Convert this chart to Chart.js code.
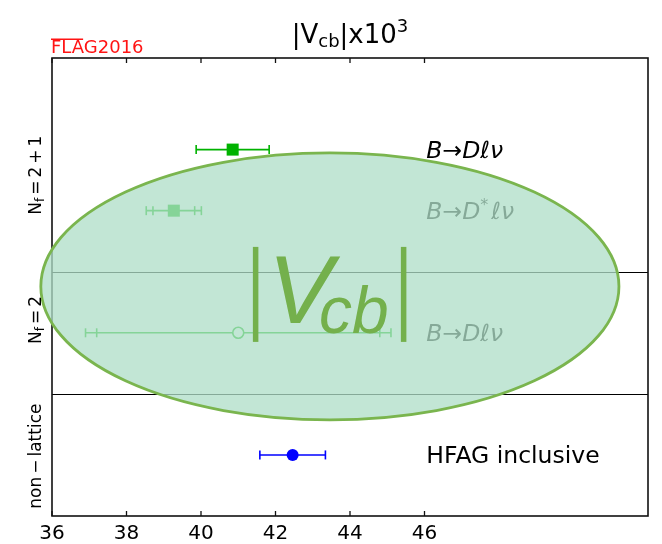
<!DOCTYPE html>
<html>
<head>
<meta charset="utf-8">
<script src="https://cdn.jsdelivr.net/npm/chart.js@4/dist/chart.umd.min.js"></script>
<style>
  html, body { margin: 0; padding: 0; background: #fff; }
  #wrap { width: 662px; height: 544px; position: relative; }
</style>
</head>
<body>
<div id="wrap"><canvas id="chart" width="662" height="544"></canvas></div>
<script>
// |Vcb| x 10^3 determinations
const labels   = ['B→Dℓν', 'B→D*ℓν', 'B→Dℓν', 'HFAG inclusive'];
const values   = [40.85, 39.27, 41.0, 42.46];
const errInner = [0.98, 0.56, 3.8, 0.88];   // statistical
const errOuter = [0.98, 0.74, 4.1, 0.88];   // total
const rows     = [6, 5, 3, 1];
const groups   = ['Nf = 2 + 1', 'Nf = 2', 'non − lattice'];
const groupRows = [5.58, 3.21, 0.98];
const dividers = [2, 4];
const xTicks   = [36, 38, 40, 42, 44, 46];

// marker appearance per entry
const GREEN = 'rgb(0,178,0)';
const BLUE = 'rgb(0,0,255)';
const markStyle = [
  { color: GREEN, shape: 'rect',   radius: 8.5, fill: GREEN },
  { color: GREEN, shape: 'rect',   radius: 8.5, fill: GREEN },
  { color: GREEN, shape: 'circle', radius: 5.5, fill: '#ffffff' },
  { color: BLUE,  shape: 'circle', radius: 6,   fill: BLUE }
];
const labelX = 46.05;
const badge = { cx: 43.46, cy: 3.76, rx: 7.76, ry: 2.186 };

const FAM = '"DejaVu Sans", sans-serif';

const datasets = [];
values.forEach((v, i) => {
  const st = markStyle[i];
  datasets.push({
    type: 'line',
    data: [{ x: v - errOuter[i], y: rows[i] }, { x: v + errOuter[i], y: rows[i] }],
    borderColor: st.color, borderWidth: 1.6, showLine: true,
    pointStyle: 'line', pointRotation: 90, pointRadius: 4.5,
    pointBorderColor: st.color, pointBorderWidth: 1.6, order: 3
  });
  if (errInner[i] !== errOuter[i]) {
    datasets.push({
      type: 'line',
      data: [{ x: v - errInner[i], y: rows[i] }, { x: v + errInner[i], y: rows[i] }],
      showLine: false, borderColor: st.color,
      pointStyle: 'line', pointRotation: 90, pointRadius: 4.5,
      pointBorderColor: st.color, pointBorderWidth: 1.6, order: 2
    });
  }
  datasets.push({
    type: 'scatter',
    data: [{ x: v, y: rows[i] }],
    pointStyle: st.shape, pointRadius: st.radius,
    pointBackgroundColor: st.fill, pointBorderColor: st.color,
    pointBorderWidth: st.fill === '#ffffff' ? 1.6 : 0, order: 1
  });
});

function runs(ctx, parts, x, y, align) {
  let w = 0;
  parts.forEach(p => {
    ctx.font = (p.italic ? 'oblique ' : '') + p.size + 'px ' + (p.family || FAM);
    p.w = ctx.measureText(p.t).width + (p.gap || 0);
    w += p.w;
  });
  let cx = align === 'center' ? x - w / 2 : (align === 'right' ? x - w : x);
  parts.forEach(p => {
    ctx.font = (p.italic ? 'oblique ' : '') + p.size + 'px ' + (p.family || FAM);
    ctx.fillText(p.t, cx, y + (p.dy || 0));
    cx += p.w;
  });
  return w;
}

function labelParts(txt) {
  const S = 23.5;
  if (txt === 'HFAG inclusive') return [{ t: txt, size: S }];
  if (txt === 'B→D*ℓν') return [
    { t: 'B', size: S, italic: true }, { t: '→', size: S }, { t: 'D', size: S, italic: true },
    { t: '*', size: 16, dy: -9, gap: 3 }, { t: 'ℓν', size: S, italic: true }
  ];
  return [
    { t: 'B', size: S, italic: true }, { t: '→', size: S }, { t: 'Dℓν', size: S, italic: true }
  ];
}

function groupParts(txt) {
  const S = 17;
  if (txt.startsWith('Nf')) {
    const rest = txt.slice(2).trim().split(' ');
    const p = [{ t: 'N', size: S }, { t: 'f', size: 12, dy: 3, gap: 3 }];
    rest.forEach((t, k) => p.push({ t, size: S, gap: k < rest.length - 1 ? 3 : 0 }));
    return p;
  }
  const bits = txt.split(' ');
  return bits.map((t, k) => ({ t, size: S, gap: k < bits.length - 1 ? 3 : 0 }));
}

const decor = {
  id: 'decor',
  beforeDatasetsDraw(chart) {
    const { ctx, chartArea: a, scales: { x, y } } = chart;
    ctx.save();
    ctx.strokeStyle = '#000';
    ctx.lineWidth = 1;
    dividers.forEach(d => {
      const py = Math.round(y.getPixelForValue(d)) + 0.5;
      ctx.beginPath(); ctx.moveTo(a.left, py); ctx.lineTo(a.right, py); ctx.stroke();
    });
    ctx.strokeStyle = '#111';
    ctx.lineWidth = 1.3;
    xTicks.forEach(t => {
      const px = x.getPixelForValue(t);
      ctx.beginPath();
      ctx.moveTo(px, a.top); ctx.lineTo(px, a.top + 5);
      ctx.moveTo(px, a.bottom); ctx.lineTo(px, a.bottom - 5);
      ctx.stroke();
    });
    ctx.lineWidth = 1.6;
    ctx.strokeRect(a.left, a.top, a.right - a.left, a.bottom - a.top);
    ctx.restore();
  },
  afterDatasetsDraw(chart) {
    const { ctx, scales: { x, y } } = chart;
    ctx.save();
    ctx.fillStyle = '#000';
    ctx.textBaseline = 'alphabetic';
    labels.forEach((l, i) => {
      runs(ctx, labelParts(l), x.getPixelForValue(labelX), y.getPixelForValue(rows[i]) + 8, 'left');
    });

    // |Vcb| badge
    const cx = x.getPixelForValue(badge.cx);
    const cy = y.getPixelForValue(badge.cy);
    const rx = x.getPixelForValue(badge.cx + badge.rx) - cx;
    const ry = y.getPixelForValue(badge.cy - badge.ry) - cy;
    ctx.beginPath();
    ctx.ellipse(cx, cy, rx, ry, 0, 0, Math.PI * 2);
    ctx.fillStyle = 'rgba(175,222,200,0.76)';
    ctx.fill();
    ctx.lineWidth = 2.8;
    ctx.strokeStyle = 'rgb(122,181,78)';
    ctx.stroke();

    const g = 'rgb(116,176,76)';
    ctx.fillStyle = g;
    ctx.fillRect(cx - 77, cy - 39.5, 5.5, 95);
    ctx.fillRect(cx + 71, cy - 39.5, 5.5, 95);
    ctx.font = 'italic 97px "Liberation Sans", Arial, sans-serif';
    ctx.fillText('V', cx - 62, cy + 36.5);
    ctx.font = 'italic 66px "Liberation Sans", Arial, sans-serif';
    ctx.fillText('cb', cx - 11, cy + 46.5);
    ctx.restore();
  },
  afterDraw(chart) {
    const { ctx, chartArea: a, scales: { y } } = chart;
    ctx.save();
    ctx.fillStyle = '#000';
    ctx.textBaseline = 'alphabetic';
    // title
    runs(ctx, [
      { t: '|V', size: 26 }, { t: 'cb', size: 18, dy: 4 },
      { t: '|x10', size: 26 }, { t: '3', size: 18, dy: -11.5 }
    ], (a.left + a.right) / 2, 43, 'center');

    // FLAG2016 tag
    ctx.fillStyle = 'rgb(255,20,20)';
    ctx.font = '18px ' + FAM;
    ctx.fillText('FLAG2016', a.left - 1, 53);
    const wFla = ctx.measureText('FLA').width;
    ctx.fillRect(a.left - 1, 38.5, wFla - 1, 1.5);

    // group labels along the left edge
    ctx.fillStyle = '#000';
    groups.forEach((gTxt, k) => {
      ctx.save();
      ctx.translate(41, y.getPixelForValue(groupRows[k]));
      ctx.rotate(-Math.PI / 2);
      runs(ctx, groupParts(gTxt), 0, 0, 'center');
      ctx.restore();
    });
    ctx.restore();
  }
};

new Chart(document.getElementById('chart'), {
  data: { datasets },
  options: {
    responsive: false,
    animation: false,
    events: [],
    layout: { padding: { left: 52, right: 14, top: 58, bottom: 0 } },
    plugins: { legend: { display: false }, tooltip: { enabled: false }, title: { display: false } },
    scales: {
      x: {
        type: 'linear', min: 36, max: 52,
        afterBuildTicks: s => { s.ticks = xTicks.map(v => ({ value: v })); },
        afterFit: s => { s.height = 28; },
        ticks: { color: '#000', font: { family: 'DejaVu Sans', size: 20 }, padding: 6, maxRotation: 0, autoSkip: false },
        grid: { display: false, drawTicks: false },
        border: { display: false }
      },
      y: { type: 'linear', min: 0, max: 7.5, display: false }
    }
  },
  plugins: [decor]
});
</script>
</body>
</html>
